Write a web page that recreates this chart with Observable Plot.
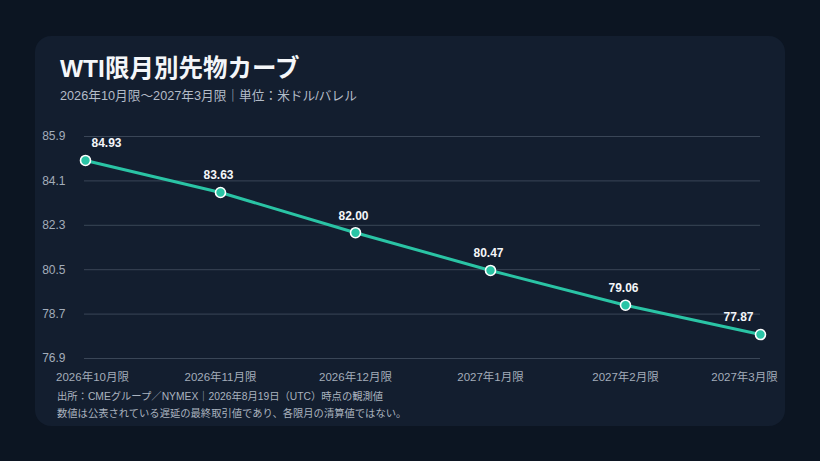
<!DOCTYPE html>
<html><head><meta charset="utf-8">
<script src="https://cdn.jsdelivr.net/npm/d3@7"></script>
<script src="https://cdn.jsdelivr.net/npm/@observablehq/plot@0.6"></script>
<style>
html,body{margin:0;padding:0;width:820px;height:461px;overflow:hidden;background:#0c1522;font-family:"Liberation Sans","Noto Sans CJK JP",sans-serif;}
#card{position:absolute;left:35px;top:36px;width:750px;height:390px;border-radius:16px;background:#131e2f;}
#title{position:absolute;left:25px;top:17px;font-size:24.5px;font-weight:700;color:#f4f6f9;line-height:32px;white-space:nowrap;}
#sub{position:absolute;left:25px;top:50px;font-size:12.7px;color:#b3bcc8;line-height:20px;white-space:nowrap;}
#chart{position:absolute;left:0;top:76px;}
#foot{position:absolute;left:22px;top:352px;font-size:10.3px;color:#aab3bf;line-height:17px;white-space:nowrap;}
</style></head>
<body>
<div id="card">
<div id="title">WTI限月別先物カーブ</div>
<div id="sub">2026年10月限～2027年3月限｜単位：米ドル/バレル</div>
<div id="chart"></div>
<div id="foot">出所：CMEグループ／NYMEX｜2026年8月19日（UTC）時点の観測値<br>数値は公表されている遅延の最終取引値であり、各限月の清算値ではない。</div>
</div>
<script>
const months = ["2026年10月限","2026年11月限","2026年12月限","2027年1月限","2027年2月限","2027年3月限"];
const prices = [84.93, 83.63, 82.00, 80.47, 79.06, 77.87];
const yTicks = [76.9, 78.7, 80.5, 82.3, 84.1, 85.9];

const data = months.map((m, i) => ({month: m, price: prices[i]}));
const teal = "#2ac4a5";
const last = months.length - 1;
const font = "'Liberation Sans','Noto Sans CJK JP',sans-serif";
const isFirst = (d, i) => i === 0;
const isLast = (d, i) => i === last;
const isMid = (d, i) => i > 0 && i < last;
const monthLabel = {x: "month", text: "month", frameAnchor: "bottom", dy: 22, fontSize: 11.5, fill: "#a3adba"};
const valueLabel = {x: "month", y: "price", text: d => d.price.toFixed(2), dy: -17, fontSize: 12, fontWeight: "bold", fill: "#f4f6f9"};

const chart = Plot.plot({
  width: 750,
  height: 273,
  marginLeft: 49,
  marginRight: 25,
  marginTop: 24,
  marginBottom: 27,
  style: {background: "transparent", fontFamily: font},
  x: {type: "point", domain: months, padding: 0, axis: null},
  y: {domain: [76.9, 85.9], axis: null},
  marks: [
    Plot.ruleY(yTicks, {stroke: "#3a4657", strokeWidth: 1}),
    Plot.axisY({ticks: yTicks, tickSize: 0, tickPadding: 19, fontSize: 12, fill: "#a3adba", label: null, tickFormat: d => d.toFixed(1)}),
    Plot.text(data, {...monthLabel, filter: isMid}),
    Plot.text(data, {...monthLabel, filter: isFirst, dx: 7}),
    Plot.text(data, {...monthLabel, filter: isLast, dx: -16}),
    Plot.line(data, {x: "month", y: "price", stroke: teal, strokeWidth: 3}),
    Plot.dot(data, {x: "month", y: "price", r: 5, fill: teal, stroke: "#ffffff", strokeWidth: 1.6}),
    Plot.text(data, {...valueLabel, filter: isMid, dx: -2}),
    Plot.text(data, {...valueLabel, filter: isFirst, dx: 21}),
    Plot.text(data, {...valueLabel, filter: isLast, dx: -22})
  ]
});
document.getElementById("chart").appendChild(chart);
</script>
</body></html>
